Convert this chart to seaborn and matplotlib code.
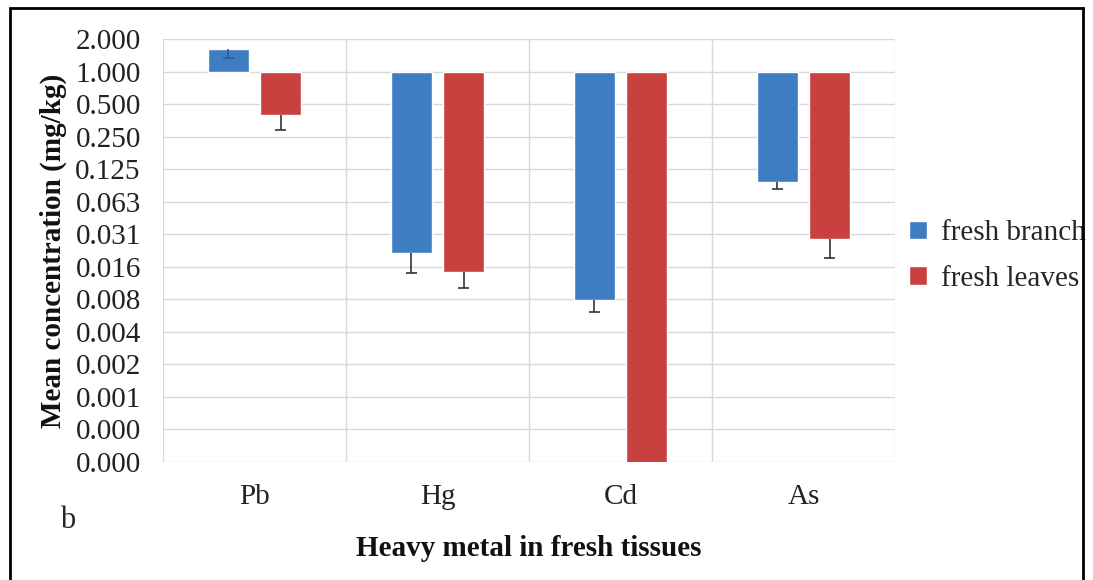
import numpy as np
import pandas as pd
import matplotlib
matplotlib.use("Agg")
import matplotlib.pyplot as plt
from matplotlib.patches import Rectangle
from matplotlib.container import BarContainer
import seaborn as sns

# ---- data ----
metals = ["Pb", "Hg", "Cd", "As"]
series = ["fresh branch", "fresh leaves"]
branch_mean = [1.61, 0.0209, 0.0077, 0.0955]
branch_low = [1.34, 0.0138, 0.0060, 0.0819]      # lower end of error bar
leaves_mean = [0.395, 0.0140, 0.0001, 0.0282]
leaves_low = [0.287, 0.0100, None, 0.0188]
tick_exponents = list(range(1, -13, -1))          # 2^1 ... 2^-12
tick_labels = ["2.000", "1.000", "0.500", "0.250", "0.125", "0.063", "0.031",
               "0.016", "0.008", "0.004", "0.002", "0.001", "0.000", "0.000"]

colors = ["#3F7DC2", "#C9413F"]

sns.set_theme(style="white")
plt.rcParams["font.family"] = ["Liberation Serif", "DejaVu Serif"]

FS = 21

df = pd.DataFrame({
    "metal": metals * 2,
    "series": [series[0]] * 4 + [series[1]] * 4,
    "value": branch_mean + leaves_mean,
})
df["log2v"] = np.log2(df["value"])

fig = plt.figure(figsize=(10.93, 5.80), dpi=100)
ax = fig.add_axes([163 / 1093, 1 - 462 / 580, (895 - 163) / 1093, (462 - 39) / 580])

sns.barplot(data=df, x="metal", y="log2v", hue="series", order=metals,
            hue_order=series, palette=colors, width=0.57, gap=0.2,
            saturation=1, errorbar=None, ax=ax, legend=True, zorder=3)

# error bars (downward only), in log2 space
lows = [branch_low, leaves_low]
means = [branch_mean, leaves_mean]
bar_conts = [c for c in ax.containers if isinstance(c, BarContainer)]
for si, cont in enumerate(bar_conts):
    for ci, patch in enumerate(list(cont.patches)):
        lo = lows[si][ci]
        if lo is None:
            continue
        m = np.log2(means[si][ci])
        l = np.log2(lo)
        xc = patch.get_x() + patch.get_width() / 2
        hw = patch.get_width() * 0.14
        col = "#2E5F97" if (si == 0 and ci == 0) else "#333333"
        ax.vlines(xc, l, m, colors=col, linewidth=1.2, zorder=4)
        ax.hlines(l, xc - hw, xc + hw, colors=col, linewidth=1.2, zorder=4)

ax.set_ylim(-12, 1)
ax.set_xlim(-0.5, 3.5)
ax.set_yticks(tick_exponents)
ax.set_yticklabels(tick_labels)
ax.set_xticks(range(len(metals)))
ax.set_xticks([-0.5, 0.5, 1.5, 2.5, 3.5], minor=True)
ax.grid(True, axis="y", which="major", color="#D9D9D9", linewidth=1.0, zorder=0)
ax.grid(True, axis="x", which="minor", color="#D9D9D9", linewidth=1.0, zorder=0)
ax.grid(False, axis="x", which="major")
ax.tick_params(axis="both", which="both", length=0, labelsize=FS, colors="#222222")
ax.tick_params(axis="y", pad=16)
ax.tick_params(axis="x", pad=16)
for s in ax.spines.values():
    s.set_visible(False)

ax.set_xlabel("Heavy metal in fresh tissues", fontsize=FS, fontweight="bold",
              labelpad=18, color="#111111")
ax.set_ylabel("Mean concentration (mg/kg)", fontsize=FS, fontweight="bold",
              labelpad=6, color="#111111")

leg = ax.legend(loc="center left", bbox_to_anchor=(909 / 1093, 1 - 256 / 580),
                bbox_transform=fig.transFigure, frameon=False, fontsize=FS,
                handlelength=0.6, handleheight=0.6, handletextpad=0.5,
                labelspacing=0.68, borderaxespad=0, borderpad=0)

fig.text(60 / 1093, 1 - 521 / 580, "b", fontsize=22, va="center", ha="left")

fig.patches.append(Rectangle((10 / 1093, -0.02), (1083 - 10) / 1093, 1 - 8 / 580 + 0.02,
                             transform=fig.transFigure, fill=False,
                             edgecolor="black", linewidth=2))

fig.savefig("out.png", dpi=100)
